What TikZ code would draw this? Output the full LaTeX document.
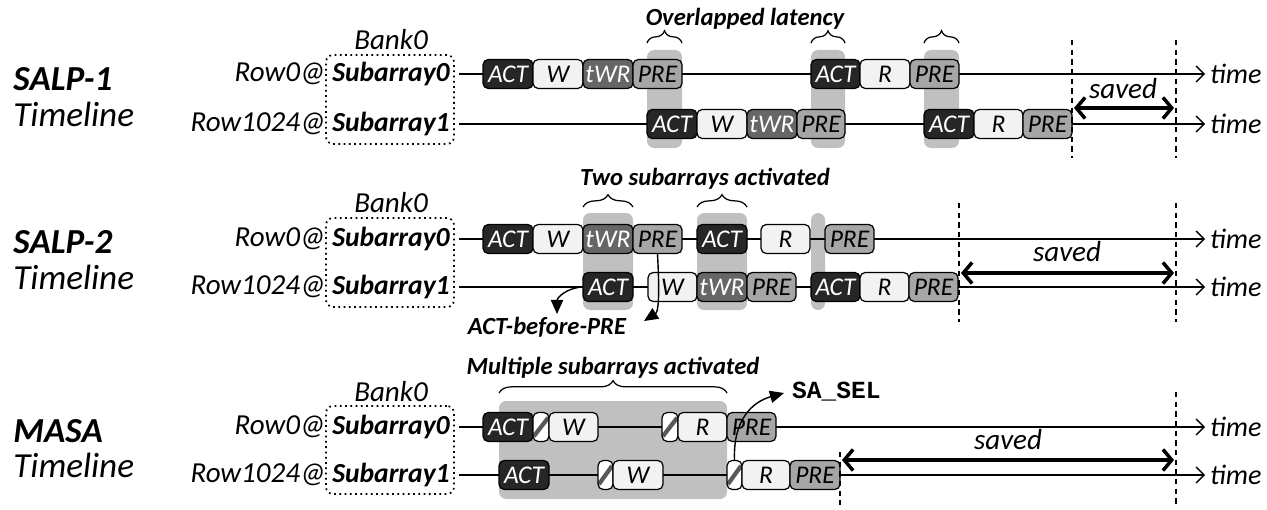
\documentclass[tikz,border=0pt]{standalone}
\usepackage{fontspec}
\setmainfont{Carlito}
\newfontfamily\monob{Liberation Mono}
\usetikzlibrary{arrows.meta,decorations.pathreplacing}
\definecolor{actc}{HTML}{262626}
\definecolor{wc}{HTML}{F2F2F2}
\definecolor{twrc}{HTML}{666666}
\definecolor{prec}{HTML}{A6A6A6}
\definecolor{hlc}{HTML}{C0C0C0}
\newcommand\cbox[6]{\node[#5,minimum width={(#3-#2)*0.02cm}] (#1) at ({(#2+#3)/2},#4) {#6};}
\newcommand\hlrect[4]{\fill[hl] (#1,#3) rectangle (#2,#4);}
\begin{document}
\begin{tikzpicture}[x=0.02cm,y=-0.02cm,
 cmd/.style={draw=black,line width=0.7pt,rounded corners=3pt,minimum height=0.58cm,inner sep=0pt,font=\fontsize{14.5}{15}\selectfont\itshape},
 actb/.style={cmd,fill=actc,text=white},
 wb/.style={cmd,fill=wc},
 twrb/.style={cmd,fill=twrc,text=white},
 preb/.style={cmd,fill=prec},
 hb/.style={cmd,fill=white,path picture={\draw[line width=2.4pt,draw=black!65] ([xshift=0.5pt,yshift=3pt]path picture bounding box.south west) -- ([xshift=-0.5pt,yshift=-3pt]path picture bounding box.north east);}},
 hl/.style={fill=hlc,rounded corners=4pt},
 tl/.style={line width=0.8pt,-{Straight Barb[length=4.5pt,width=9pt]}},
 timelbl/.style={anchor=west,inner sep=1pt,font=\fontsize{16}{18}\selectfont\itshape},
 rowlbl/.style={anchor=east,inner sep=1pt,font=\fontsize{16.5}{18}\selectfont\itshape},
 sublbl/.style={inner sep=1pt,font=\fontsize{15.7}{18}\selectfont\bfseries\itshape},
 banklbl/.style={inner sep=1pt,font=\fontsize{16.5}{18}\selectfont\itshape},
 bankbox/.style={draw=black,dotted,line width=1pt,rounded corners=4pt},
 biglbl/.style={anchor=west,inner sep=0pt,font=\fontsize{20}{22}\selectfont\bfseries\itshape},
 bigsub/.style={anchor=west,inner sep=0pt,font=\fontsize{20}{22}\selectfont\itshape},
 head/.style={inner sep=1pt,font=\fontsize{14}{16}\selectfont\bfseries\itshape},
 brc/.style={line width=0.7pt,decorate,decoration={brace,amplitude=7pt}},
 dsh/.style={line width=0.6pt,dash pattern=on 3pt off 2.5pt},
 sav/.style={line width=2pt,{Straight Barb[length=5pt,width=12pt]}-{Straight Barb[length=5pt,width=12pt]}},
 carr/.style={line width=0.8pt,-{Triangle[length=8pt,width=7pt]}}
]
\useasboundingbox (0,0) rectangle (1267,510);

% ================= SALP-1 =================
\node[biglbl] (l1a) at (13,79) {SALP-1};
\node[bigsub] (l1b) at (13,114) {Timeline};
\node[bankbox,minimum width={128*0.02cm},minimum height={89*0.02cm}] (bank1) at (390,99.5) {};
\node[banklbl] (b1) at (391,40) {Bank0};
\node[sublbl] (s10) at (391,74) {Subarray0};
\node[sublbl] (s11) at (391,124) {Subarray1};
\node[rowlbl] (r10) at (328,74) {Row0@};
\node[rowlbl] (r11) at (328,124) {Row1024@};
\node[timelbl] (t10) at (1208,74) {time};
\node[timelbl] (t11) at (1208,124) {time};
\coordinate (a10) at (459,74);
\coordinate (a11) at (459,124);

\hlrect{647}{682}{50}{148}
\hlrect{811}{845}{50}{148}
\hlrect{924}{959}{50}{148}

\draw[tl] (a10) -- ([xshift=-0.06cm]t10.west);
\draw[tl] (a11) -- ([xshift=-0.06cm]t11.west);

\cbox{p1a1}{483}{533}{74}{actb}{ACT}
\cbox{p1a2}{533}{583}{74}{wb}{W}
\cbox{p1a3}{583}{633}{74}{twrb}{tWR}
\cbox{p1a4}{633}{682}{74}{preb}{PRE}
\cbox{p1a5}{811}{860}{74}{actb}{ACT}
\cbox{p1a6}{860}{910}{74}{wb}{R}
\cbox{p1a7}{910}{959}{74}{preb}{PRE}

\cbox{p1b1}{647}{697}{124}{actb}{ACT}
\cbox{p1b2}{697}{747}{124}{wb}{W}
\cbox{p1b3}{747}{797}{124}{twrb}{tWR}
\cbox{p1b4}{797}{845}{124}{preb}{PRE}
\cbox{p1b5}{924}{974}{124}{actb}{ACT}
\cbox{p1b6}{974}{1023}{124}{wb}{R}
\cbox{p1b7}{1023}{1072}{124}{preb}{PRE}

\draw[brc] (647,43) -- (682,43);
\draw[brc] (811,43) -- (845,43);
\draw[brc] (924,43) -- (959,43);
\node[head] (h1) at (745,19) {Overlapped latency};

\coordinate (d1a) at (1072,40); \coordinate (d1b) at (1072,158);
\coordinate (d1c) at (1176,40); \coordinate (d1d) at (1176,158);
\draw[dsh] (d1a) -- (d1b);
\draw[dsh] (d1c) -- (d1d);
\coordinate (v1a) at (1074,108); \coordinate (v1b) at (1174,108);
\draw[sav] (v1a) -- (v1b);
\node[banklbl] (sv1) at (1123,89) {saved};

% ================= SALP-2 =================
\node[biglbl] (l2a) at (13,242) {SALP-2};
\node[bigsub] (l2b) at (13,277) {Timeline};
\node[bankbox,minimum width={128*0.02cm},minimum height={89*0.02cm}] (bank2) at (390,262.5) {};
\node[banklbl] (b2) at (391,203) {Bank0};
\node[sublbl] (s20) at (391,239) {Subarray0};
\node[sublbl] (s21) at (391,287) {Subarray1};
\node[rowlbl] (r20) at (328,239) {Row0@};
\node[rowlbl] (r21) at (328,287) {Row1024@};
\node[timelbl] (t20) at (1208,239) {time};
\node[timelbl] (t21) at (1208,287) {time};
\coordinate (a20) at (459,239);
\coordinate (a21) at (459,287);

\hlrect{583}{633}{213}{310}
\hlrect{697}{747}{213}{310}
\hlrect{811}{825}{213}{310}

\draw[tl] (a20) -- ([xshift=-0.06cm]t20.west);
\draw[tl] (a21) -- ([xshift=-0.06cm]t21.west);

\cbox{p2a1}{483}{533}{239}{actb}{ACT}
\cbox{p2a2}{533}{583}{239}{wb}{W}
\cbox{p2a3}{583}{633}{239}{twrb}{tWR}
\cbox{p2a4}{633}{682}{239}{preb}{PRE}
\cbox{p2a5}{697}{747}{239}{actb}{ACT}
\cbox{p2a6}{761}{810}{239}{wb}{R}
\cbox{p2a7}{825}{874}{239}{preb}{PRE}

\cbox{p2b1}{583}{633}{287}{actb}{ACT}
\cbox{p2b2}{648}{697}{287}{wb}{W}
\cbox{p2b3}{697}{747}{287}{twrb}{tWR}
\cbox{p2b4}{747}{796}{287}{preb}{PRE}
\cbox{p2b5}{811}{860}{287}{actb}{ACT}
\cbox{p2b6}{860}{909}{287}{wb}{R}
\cbox{p2b7}{909}{958}{287}{preb}{PRE}

\draw[brc] (583,207) -- (633,207);
\draw[brc] (697,207) -- (747,207);
\node[head] (h2) at (705,179) {Two subarrays activated};

\node[head] (abp) at (547,327) {ACT-before-PRE};
\draw[carr] (p2b1.west) .. controls (566,288) and (557,298) .. (557,314);
\draw[carr] (p2a4.south) .. controls (660,300) and (658,312) .. (644,321);

\coordinate (d2a) at (959,203); \coordinate (d2b) at (959,322);
\coordinate (d2c) at (1176,203); \coordinate (d2d) at (1176,322);
\draw[dsh] (d2a) -- (d2b);
\draw[dsh] (d2c) -- (d2d);
\coordinate (v2a) at (961,273); \coordinate (v2b) at (1174,273);
\draw[sav] (v2a) -- (v2b);
\node[banklbl] (sv2) at (1067,252) {saved};

% ================= MASA =================
\node[biglbl] (l3a) at (13,431) {MASA};
\node[bigsub] (l3b) at (13,465) {Timeline};
\node[bankbox,minimum width={128*0.02cm},minimum height={88*0.02cm}] (bank3) at (390,450) {};
\node[banklbl] (b3) at (391,392) {Bank0};
\node[sublbl] (s30) at (391,427) {Subarray0};
\node[sublbl] (s31) at (391,475) {Subarray1};
\node[rowlbl] (r30) at (328,427) {Row0@};
\node[rowlbl] (r31) at (328,475) {Row1024@};
\node[timelbl] (t30) at (1208,427) {time};
\node[timelbl] (t31) at (1208,475) {time};
\coordinate (a30) at (459,427);
\coordinate (a31) at (459,475);

\hlrect{499}{727}{401}{499}

\draw[tl] (a30) -- ([xshift=-0.06cm]t30.west);
\draw[tl] (a31) -- ([xshift=-0.06cm]t31.west);

\cbox{p3a1}{483}{533}{427}{actb}{ACT}
\cbox{p3a2}{533}{549}{427}{hb}{}
\cbox{p3a3}{549}{598}{427}{wb}{W}
\cbox{p3a4}{662}{678}{427}{hb}{}
\cbox{p3a5}{678}{727}{427}{wb}{R}
\cbox{p3a6}{727}{776}{427}{preb}{PRE}

\cbox{p3b1}{499}{549}{475}{actb}{ACT}
\cbox{p3b2}{598}{613}{475}{hb}{}
\cbox{p3b3}{613}{663}{475}{wb}{W}
\cbox{p3b4}{727}{742}{475}{hb}{}
\cbox{p3b5}{742}{790}{475}{wb}{R}
\cbox{p3b6}{790}{840}{475}{preb}{PRE}

\draw[brc] (499,393) -- (727,393);
\node[head] (h3) at (613,368) {Multiple subarrays activated};

\node[anchor=west,inner sep=1pt,font=\monob\fontsize{14}{16}\selectfont\bfseries] (sa) at (790,392) {SA\_SEL};
\draw[carr] (p3b4.north) .. controls (733,420) and (752,402) .. (784,393);

\coordinate (d3a) at (840,452); \coordinate (d3b) at (840,505);
\coordinate (d3c) at (1176,392); \coordinate (d3d) at (1176,507);
\draw[dsh] (d3a) -- (d3b);
\draw[dsh] (d3c) -- (d3d);
\coordinate (v3a) at (842,460); \coordinate (v3b) at (1174,460);
\draw[sav] (v3a) -- (v3b);
\node[banklbl] (sv3) at (1008,440) {saved};

\end{tikzpicture}
\end{document}
